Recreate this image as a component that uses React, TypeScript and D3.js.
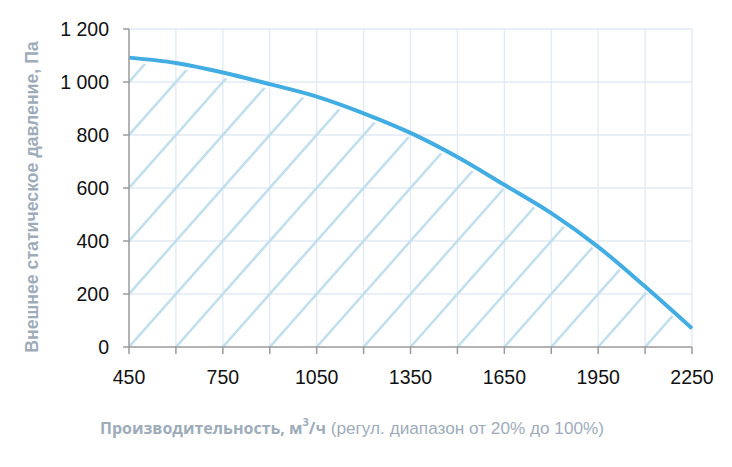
import React from "react";
import * as d3 from "d3";

const flow = [450, 600, 750, 900, 1050, 1200, 1350, 1500, 1650, 1800, 1950, 2100, 2250];
const pressure = [1092, 1072, 1036, 992, 945, 882, 808, 717, 612, 505, 378, 228, 70];
const xTicks = [450, 600, 750, 900, 1050, 1200, 1350, 1500, 1650, 1800, 1950, 2100, 2250];
const xLabels = [450, 750, 1050, 1350, 1650, 1950, 2250];
const yTicks = [0, 200, 400, 600, 800, 1000, 1200];
const yLabels = ["0", "200", "400", "600", "800", "1 000", "1 200"];
const hatchStarts = d3.range(-8, 13).map((k) => 450 + 150 * k);

const W = 732;
const H = 467;

export default function App() {
  const x = d3.scaleLinear().domain([450, 2250]).range([129, 692]);
  const y = d3.scaleLinear().domain([0, 1200]).range([347, 29]);
  const pts: [number, number][] = flow.map((f, i) => [f, pressure[i]]);
  const line = d3
    .line<[number, number]>()
    .x((d) => x(d[0]))
    .y((d) => y(d[1]))
    .curve(d3.curveMonotoneX);
  const area = d3
    .area<[number, number]>()
    .x((d) => x(d[0]))
    .y0(y(0))
    .y1((d) => y(d[1]) + 5)
    .curve(d3.curveMonotoneX);

  const titleColor = "#9eacba";
  const axisColor = "#9a9a9a";
  const gridColor = "#e1eaf4";
  const font = "'Liberation Sans', Arial, sans-serif";

  return (
    <svg
      width={W}
      height={H}
      style={{ position: "absolute", left: 0, top: 0, background: "#fff" }}
    >
      <defs>
        <clipPath id="under">
          <path d={area(pts) || ""} />
        </clipPath>
      </defs>
      {xTicks.slice(1).map((t) => (
        <line key={"gx" + t} x1={x(t)} x2={x(t)} y1={y(1200)} y2={y(0)} stroke={gridColor} strokeWidth={1.3} />
      ))}
      {yTicks.slice(1).map((t) => (
        <line key={"gy" + t} x1={x(450)} x2={x(2250)} y1={y(t)} y2={y(t)} stroke={gridColor} strokeWidth={1.3} />
      ))}
      <g clipPath="url(#under)">
        {hatchStarts.map((q) => (
          <line
            key={"h" + q}
            x1={x(q)}
            y1={y(0)}
            x2={x(q + 150 * 6)}
            y2={y(1200)}
            stroke="#c2dfed"
            strokeWidth={2.6}
          />
        ))}
      </g>
      <path d={line(pts) || ""} fill="none" stroke="#41ade2" strokeWidth={4} />
      <line x1={x(450)} x2={x(450)} y1={y(1200)} y2={y(0)} stroke={axisColor} strokeWidth={1.5} />
      <line x1={x(450)} x2={x(2250)} y1={y(0)} y2={y(0)} stroke={axisColor} strokeWidth={1.5} />
      {yTicks.map((t) => (
        <line key={"ty" + t} x1={x(450) - 6} x2={x(450)} y1={y(t)} y2={y(t)} stroke={axisColor} strokeWidth={1.5} />
      ))}
      {xTicks.map((t) => (
        <line key={"tx" + t} x1={x(t)} x2={x(t)} y1={y(0)} y2={y(0) + 7} stroke={axisColor} strokeWidth={1.5} />
      ))}
      {yTicks.map((t, i) => (
        <text
          key={"ly" + t}
          x={109}
          y={y(t)}
          dy="0.36em"
          textAnchor="end"
          fontFamily={font}
          fontSize={19.5}
          fill="#111"
        >
          {yLabels[i]}
        </text>
      ))}
      {xLabels.map((t) => (
        <text
          key={"lx" + t}
          x={x(t)}
          y={384}
          textAnchor="middle"
          fontFamily={font}
          fontSize={19.5}
          fill="#111"
        >
          {t}
        </text>
      ))}
      <text
        transform={`translate(38,197) rotate(-90)`}
        textAnchor="middle"
        fontFamily={font}
        fontWeight="bold"
        fontSize={17.7}
        fill={titleColor}
      >
        Внешнее статическое давление, Па
      </text>
      <text x={100} y={434} fontSize={16} fill={titleColor}>
        <tspan fontFamily="'Open Sans', sans-serif" fontWeight="bold">
          Производительность, м
        </tspan>
        <tspan fontFamily="'Open Sans', sans-serif" fontWeight="bold" fontSize={11} dy={-8}>
          3
        </tspan>
        <tspan fontFamily="'Open Sans', sans-serif" fontWeight="bold" dy={8}>
          /ч
        </tspan>
        <tspan fontFamily={font} fontSize={17.2}> (регул. диапазон от 20% до 100%)</tspan>
      </text>
    </svg>
  );
}
